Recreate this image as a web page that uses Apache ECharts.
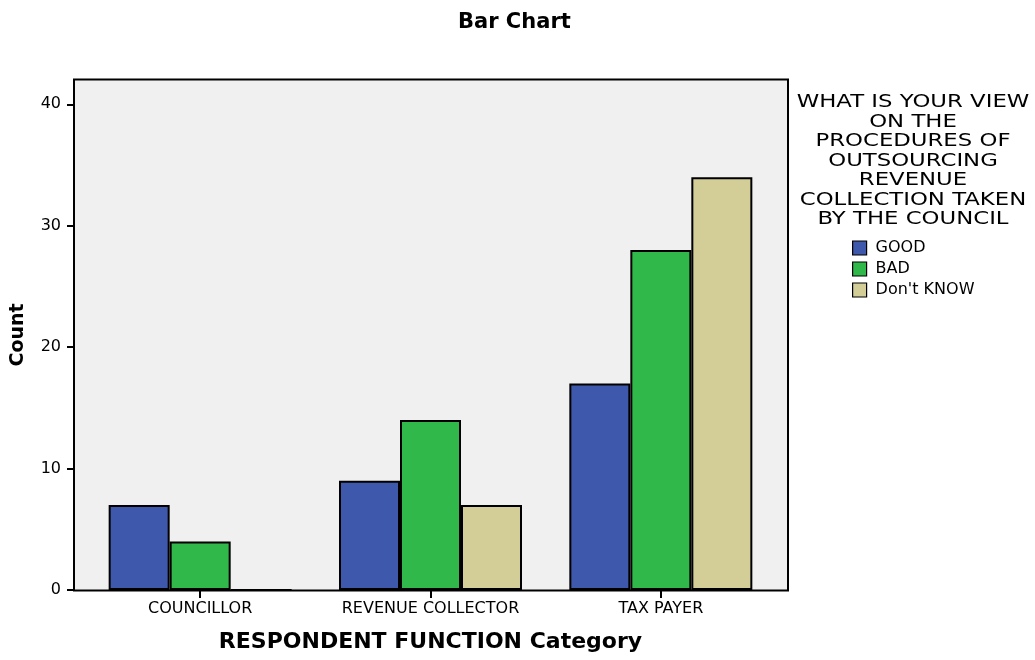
<!DOCTYPE html>
<html>
<head>
<meta charset="utf-8">
<script src="https://cdn.jsdelivr.net/npm/echarts@6/dist/echarts.min.js"></script>
<style>html,body{margin:0;padding:0;background:#fff}#c{width:1035px;height:660px}</style>
</head>
<body>
<div id="c"></div>
<script>
const categories = ['COUNCILLOR', 'REVENUE COLLECTOR', 'TAX PAYER'];
const seriesNames = ['GOOD', 'BAD', "Don't KNOW"];
const goodValues = [7, 9, 17];
const badValues = [4, 14, 28];
const dontKnowValues = [0, 7, 34];
const yTicks = [0, 10, 20, 30, 40];
const legendTitle = 'WHAT IS YOUR VIEW\nON THE\nPROCEDURES OF\nOUTSOURCING\nREVENUE\nCOLLECTION TAKEN\nBY THE COUNCIL';

const colors = ['#3e58ab', '#30b84a', '#d3ce98'];
const FONT = '"DejaVu Sans", "Liberation Sans", Arial, sans-serif';
const chart = echarts.init(document.getElementById('c'), null, {renderer: 'canvas'});
const valueSets = [goodValues, badValues, dontKnowValues];

chart.setOption({
  animation: false,
  textStyle: {fontFamily: FONT},
  title: {
    text: 'Bar Chart', left: 453, top: 7,
    textStyle: {fontFamily: FONT, fontSize: 21, fontWeight: 'bold', color: '#000'}
  },
  graphic: [
    {type: 'rect', z: -10, shape: {x: 74, y: 79.5, width: 714, height: 511},
     style: {fill: '#f0f0f0', stroke: '#000', lineWidth: 2}},
    {type: 'text', z: 10, x: 913, y: 93, scaleX: 1.34, scaleY: 1,
     style: {text: legendTitle, textAlign: 'center', font: '17px ' + FONT, lineHeight: 19.5, fill: '#000'}}
  ],
  legend: {
    orient: 'vertical', left: 847, top: 235, itemWidth: 14, itemHeight: 14, itemGap: 5,
    icon: 'rect',
    itemStyle: {borderColor: '#000', borderWidth: 1.2},
    textStyle: {fontFamily: FONT, fontSize: 16, color: '#000', padding: [0, 0, 0, 4]},
    data: seriesNames
  },
  grid: {left: 85, right: 259, top: 80, bottom: 70, containLabel: false},
  xAxis: {
    type: 'category', data: categories,
    name: 'RESPONDENT FUNCTION Category', nameLocation: 'middle', nameGap: 41,
    nameTextStyle: {fontFamily: FONT, fontSize: 22, fontWeight: 'bold', color: '#000'},
    axisLine: {show: false},
    axisTick: {show: true, alignWithLabel: true, interval: 0, length: 8, lineStyle: {color: '#000', width: 2}},
    axisLabel: {interval: 0, hideOverlap: false, margin: 11, fontSize: 16, color: '#000', fontFamily: FONT}
  },
  yAxis: {
    type: 'value', min: 0, max: 42, interval: 10, offset: 11,
    name: 'Count', nameLocation: 'middle', nameGap: 46,
    nameTextStyle: {fontFamily: FONT, fontSize: 19, fontWeight: 'bold', color: '#000'},
    axisLine: {show: true, lineStyle: {color: '#000', width: 2}},
    axisTick: {show: true, length: 7, lineStyle: {color: '#000', width: 2},
               customValues: yTicks},
    axisLabel: {margin: 13, fontSize: 16, color: '#000', fontFamily: FONT, customValues: yTicks},
    splitLine: {show: false}
  },
  series: seriesNames.map((n, i) => ({
    name: n, type: 'bar', data: valueSets[i],
    barWidth: 61, barGap: '0%',
    itemStyle: {color: colors[i], borderColor: '#000', borderWidth: 2}
  }))
});
</script>
</body>
</html>
